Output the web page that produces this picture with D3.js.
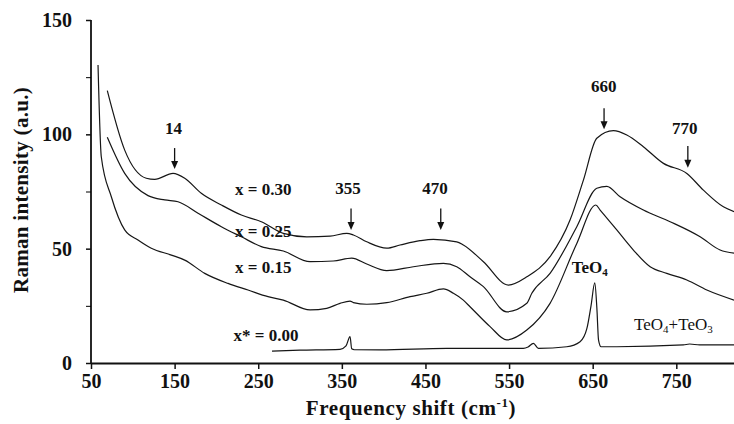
<!DOCTYPE html>
<html><head><meta charset="utf-8">
<script src="https://cdn.jsdelivr.net/npm/d3@7"></script>
<style>
body{margin:0;background:#fff}
svg{display:block}
svg text{font-family:"Liberation Serif","Times New Roman",Times,Tinos,"DejaVu Serif",serif !important;font-weight:bold;fill:#111}
</style>
</head><body><svg id="c" width="734" height="424"></svg>
<script>
// ---- data ----
const xTicks = [50,150,250,350,450,550,650,750];
const yTicks = [0,50,100,150];
const yMinorTicks = [25,75,125];

const series030 = [[69.5,119.1],[90.3,93.1],[116.1,80.8],[126.2,80.3],[148.1,82.9],[162.1,80.8],[181.9,74.2],[205.9,69.1],[229.8,64.7],[253.7,61.8],[280,56.7],[308,55.2],[335.9,55.5],[355.9,56.7],[363.8,56.0],[379.8,53.0],[403.7,50.2],[419.6,51.6],[443.5,53.5],[459.5,54.1],[487.4,53.0],[495.3,51.6],[519.3,44.3],[549.2,34.1],[571.2,37.7],[599,46.5],[622.9,62.5],[638.9,80.0],[654.9,98.3],[674.8,101.6],[690.8,99.7],[710.6,94.6],[734.6,87.3],[762.6,82.9],[782.4,75.6],[806.3,68.3],[819.1,66.2]];

const series025 = [[69.5,98.7],[90.3,82.9],[118.2,73.2],[138.2,71.3],[154.1,70.5],[178,65.5],[205.9,59.6],[229.8,55.2],[253.7,50.9],[280,49.0],[312,44.3],[339.8,44.6],[361.8,45.9],[379.8,43.3],[403.7,40.4],[435.5,42.1],[471.4,43.6],[487.4,42.1],[503.3,37.7],[519.3,33.4],[547.2,22.4],[571.2,26.1],[577.2,30.5],[599,39.2],[631,59.6],[654.9,76.4],[666.9,77.2],[682.8,72.7],[710.6,66.9],[742.6,61.8],[778.5,55.2],[802.4,49.4],[819.1,48.0]];

const series015 = [[58.4,130.3],[62.3,90.2],[74.3,72.7],[90.3,58.2],[106.2,53.8],[122.1,50.2],[146.1,47.2],[162.1,45.0],[186,39.2],[213.9,34.8],[237.8,31.9],[261.7,29.0],[280,27.5],[312,23.2],[331.9,23.9],[347.8,26.1],[359.8,27.1],[363.8,26.4],[379.8,25.7],[403.7,26.4],[431.6,29.0],[451.6,30.5],[471.4,32.4],[483.4,30.5],[495.3,27.5],[503.3,24.6],[527.3,15.9],[547.2,10.1],[571.2,14.4],[599,26.1],[631,52.3],[653.7,69.1],[658.9,66.9],[678.8,58.2],[698.7,49.4],[718.7,42.1],[738.6,39.2],[762.6,36.3],[786.5,31.9],[819.1,27.5]];

const series000 = [[266.5,5.2],[300,5.6],[347.8,6.0],[355,7.5],[359.8,11.5],[361.8,6.2],[365,5.8],[395.7,5.7],[475.5,6.4],[567.1,6.4],[572.7,7.0],[579.1,8.6],[585.1,6.4],[619,7.1],[634.9,9.3],[643,15],[648,25],[652.5,35],[655,24],[657,10],[660,7.1],[678.8,7.1],[758.5,7.9],[765.9,8.3],[778,7.9],[819.1,7.9]];

// peak annotations
const peakLabels = ["14","355","470","660","770"];
const peakArrowX = [150,361,468.3,663.6,763.8];
const peakArrowTop = [94.0,67.6,67.6,111.4,94.9];
const peakArrowBottom = [84.8,58.2,58.2,102.2,85.4];
const peakLabelX = [148.6,357.4,461.5,663.2,760.2];
const peakLabelY = [100.1,73.9,73.9,118.6,100.1];

const seriesLabels = ["x = 0.30","x = 0.25","x = 0.15","x* = 0.00"];
const seriesLabelX = [222.2,222.2,222.2,220.5];
const seriesLabelY = [73.5,55.1,39.4,9.6];

// ---- chart ----
const FONT = '"Liberation Serif","Times New Roman",Times,Tinos,"DejaVu Serif",serif';
const svg = d3.select("#c");
const x = d3.scaleLinear().domain([50,819]).range([91,734]);
const y = d3.scaleLinear().domain([0,150]).range([363,20]);

const line = d3.line().x(d=>x(d[0])).y(d=>y(d[1])).curve(d3.curveMonotoneX);
[series030,series025,series015,series000].forEach(s=>{
  svg.append("path").attr("d",line(s)).attr("fill","none")
    .attr("stroke","#161616").attr("stroke-width",1.2).attr("stroke-linejoin","round");
});

// axes
const xAxis = svg.append("g").attr("transform",`translate(0,${y(0)})`)
  .call(d3.axisBottom(x).tickValues(xTicks).tickSize(6).tickPadding(5).tickFormat(d3.format("d")));
const yAxis = svg.append("g").attr("transform",`translate(${x(50)},0)`)
  .call(d3.axisLeft(y).tickValues(yTicks).tickSize(5).tickPadding(14).tickFormat(d3.format("d")));
svg.append("g").attr("transform",`translate(${x(50)},0)`)
  .call(d3.axisLeft(y).tickValues(yMinorTicks).tickSize(5).tickFormat(""))
  .select(".domain").remove();
svg.selectAll("g").attr("font-family",FONT);
[xAxis,yAxis].forEach(g=>{
  g.select(".domain").attr("stroke","#111").attr("stroke-width",1.8);
  g.selectAll(".tick line").attr("stroke","#111").attr("stroke-width",1.5);
  g.selectAll(".tick text").attr("font-family",FONT).attr("font-weight","bold").attr("font-size",20).attr("fill","#111");
});
xAxis.select(".domain").attr("d",`M${x(50)},0.5H734`);
yAxis.select(".domain").attr("d",`M-0,${y(150)}V${y(0)}`);

// axis titles
svg.append("text").attr("transform","translate(28,190) rotate(-90)")
  .attr("text-anchor","middle").style("font-size","21px").style("letter-spacing","0.3px")
  .text("Raman intensity (a.u.)");
const xt = svg.append("text").attr("x",411).attr("y",415).attr("text-anchor","middle")
  .style("font-size","21px").style("letter-spacing","0.6px");
xt.append("tspan").text("Frequency shift (cm");
xt.append("tspan").attr("dy",-8).style("font-size","13px").text("-1");
xt.append("tspan").attr("dy",8).text(")");

// peak arrows
peakLabels.forEach((lab,i)=>{
  const ax = x(peakArrowX[i]);
  const yt = y(peakArrowTop[i]), yb = y(peakArrowBottom[i]);
  svg.append("line").attr("x1",ax).attr("x2",ax).attr("y1",yt).attr("y2",yb-6)
    .attr("stroke","#111").attr("stroke-width",1.3);
  svg.append("path").attr("d",`M${ax-3.5},${yb-8}L${ax+3.5},${yb-8}L${ax},${yb}Z`).attr("fill","#111");
  svg.append("text").attr("x",x(peakLabelX[i])).attr("y",y(peakLabelY[i]))
    .attr("text-anchor","middle").style("font-size","17px").text(lab);
});

// series labels
seriesLabels.forEach((lab,i)=>{
  svg.append("text").attr("x",x(seriesLabelX[i])).attr("y",y(seriesLabelY[i]))
    .style("font-size","17px").text(lab);
});

// TeO4 labels
const t1 = svg.append("text").attr("x",x(625)).attr("y",y(39.4)).style("font-size","17px");
t1.append("tspan").text("TeO");
t1.append("tspan").attr("dy",3).style("font-size","11px").text("4");
const t2 = svg.append("text").attr("x",x(699.5)).attr("y",y(14.4)).style("font-size","17px").style("font-weight","normal");
t2.append("tspan").text("TeO");
t2.append("tspan").attr("dy",3).style("font-size","11px").text("4");
t2.append("tspan").attr("dy",-3).text("+TeO");
t2.append("tspan").attr("dy",3).style("font-size","11px").text("3");
</script>
</body></html>
